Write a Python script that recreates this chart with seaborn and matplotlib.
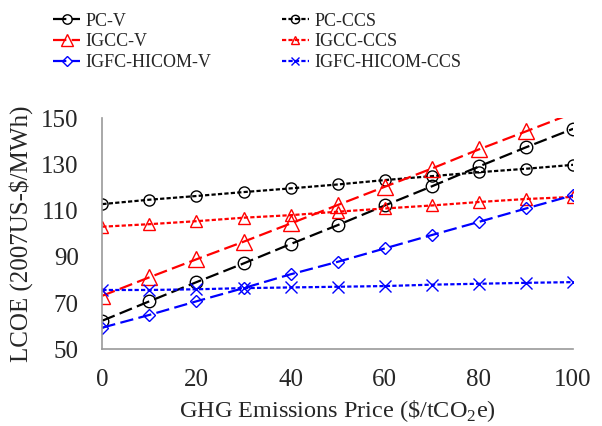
import matplotlib
matplotlib.use("Agg")
import matplotlib.pyplot as plt
import seaborn as sns
import numpy as np
import pandas as pd

sns.set_theme(style="white")
plt.rcParams['font.family'] = ['Liberation Serif', 'DejaVu Serif']
plt.rcParams['mathtext.fontset'] = 'custom'
plt.rcParams['mathtext.rm'] = 'Liberation Serif'

price = [0, 10, 20, 30, 40, 50, 60, 70, 80, 90, 100]
pc_v = [62.4, 70.8, 79.1, 87.2, 95.6, 103.8, 112.3, 120.6, 129.2, 137.5, 145.5]
pc_ccs = [112.9, 114.8, 116.4, 118.1, 119.7, 121.4, 123.3, 125.0, 126.7, 128.2, 129.9]
igcc_v = [73.2, 81.2, 89.0, 96.6, 104.5, 112.5, 120.4, 128.3, 136.6, 144.4, 152.3]
igcc_ccs = [103.1, 104.2, 105.5, 107.0, 108.1, 109.6, 111.0, 112.3, 113.8, 115.1, 116.0]
igfc_v = [59.4, 64.9, 70.8, 76.5, 82.5, 87.9, 93.7, 99.5, 105.2, 111.0, 116.7]
igfc_ccs = [75.7, 75.7, 76.0, 76.5, 76.8, 77.1, 77.4, 78.0, 78.4, 78.8, 79.1]

series_names = ["PC-V", "PC-CCS", "IGCC-V", "IGCC-CCS", "IGFC-HICOM-V", "IGFC-HICOM-CCS"]
series_vals = [pc_v, pc_ccs, igcc_v, igcc_ccs, igfc_v, igfc_ccs]
colors = ["black", "black", "red", "red", "blue", "blue"]
markers = ["o", "o", "^", "^", "D", "x"]
msizes = [9, 8, 11, 8, 6.5, 8]
long_dash = (0, (6, 2.4))
short_dash = (0, (1.9, 1.0))
styles = [long_dash, short_dash, long_dash, short_dash, long_dash, short_dash]
YMIN, YMAX = 50, 150

fig = plt.figure(figsize=(6.02, 4.26), dpi=100)
ax = fig.add_axes([0.170, 0.180, 0.782, 0.542])

for name, vals, c, m, ms, ls in zip(series_names, series_vals, colors, markers, msizes, styles):
    df = pd.DataFrame({"x": price, "y": vals})
    shown = [i for i, v in enumerate(vals) if YMIN <= v <= YMAX]
    sns.lineplot(data=df, x="x", y="y", ax=ax, color=c, marker=m, markersize=ms,
                 markerfacecolor="none", markeredgecolor=c, markeredgewidth=1.0,
                 linewidth=1.6, linestyle=ls, label=name, markevery=shown)

h, l = ax.get_legend_handles_labels()
ax.get_legend().remove()
order = [0, 2, 4, 1, 3, 5]
fig.legend([h[i] for i in order], [l[i] for i in order], ncol=2, loc="upper left",
           bbox_to_anchor=(0.088, 0.970), frameon=False, fontsize=13,
           handlelength=1.5, handletextpad=0.3, columnspacing=3.9,
           labelspacing=0.2, borderpad=0, borderaxespad=0, markerscale=0.75)

ax.set_xlim(0, 100)
ax.set_ylim(YMIN, YMAX)
ax.set_xticks([0, 20, 40, 60, 80, 100])
ax.set_yticks([50, 70, 90, 110, 130, 150])
ax.set_xticks(np.arange(0, 101, 4), minor=True)
ax.set_yticks(np.arange(50, 151, 4), minor=True)
ax.tick_params(axis="both", which="major", direction="out", length=7, width=1,
               color="#999999", labelsize=18, pad=4)
ax.tick_params(axis="both", which="minor", direction="in", length=4, width=1,
               color="#999999")
ax.tick_params(axis="x", which="major", pad=7)
ax.tick_params(axis="y", which="major", pad=10)
for s in ["top", "right"]:
    ax.spines[s].set_visible(False)
for s in ["left", "bottom"]:
    ax.spines[s].set_color("#999999")
    ax.spines[s].set_linewidth(1.2)
ax.set_xlabel(r"GHG Emissions Price (\$/tCO$_2$e)", fontsize=17.5, labelpad=5)
ax.set_ylabel("LCOE (2007US-$/MWh)", fontsize=18, labelpad=6)
ax.grid(False)

fig.savefig("out.png", dpi=100)
